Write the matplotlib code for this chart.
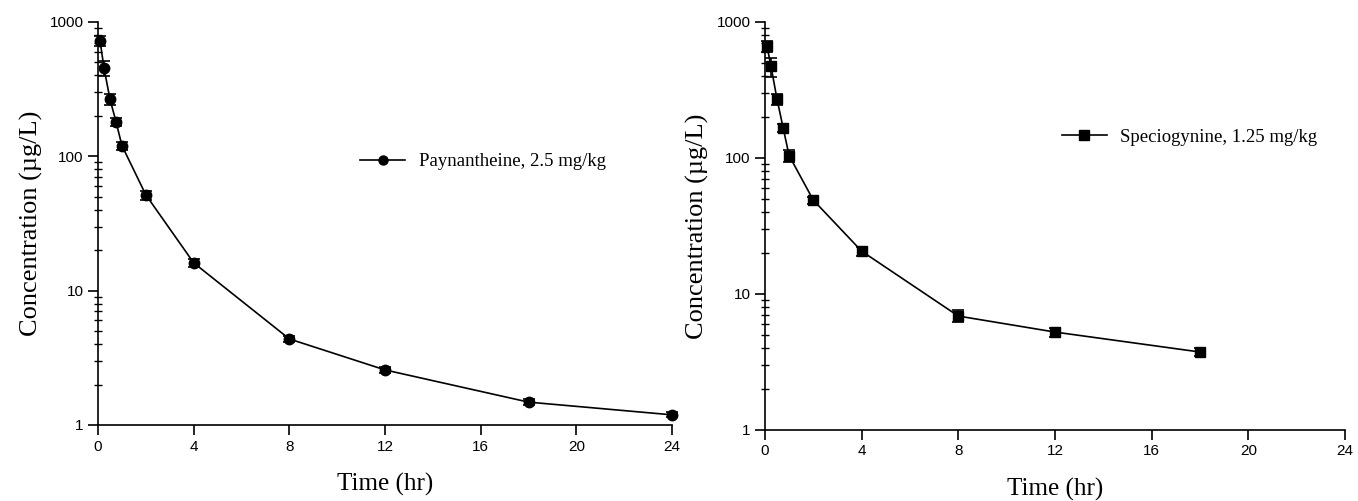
import matplotlib
matplotlib.use("Agg")
import matplotlib.pyplot as plt
from matplotlib.lines import Line2D
from matplotlib.ticker import FixedLocator, NullFormatter, FixedFormatter, LogLocator

# Data
time_p = [0.083, 0.25, 0.5, 0.75, 1, 2, 4, 8, 12, 18, 24]
conc_p = [727, 453, 266, 181, 120, 51.6, 16.1, 4.37, 2.57, 1.48, 1.19]
err_p = [60, 60, 27, 12, 8, 4, 1.0, 0.2, 0.15, 0.08, 0.05]
label_p = "Paynantheine, 2.5 mg/kg"

time_s = [0.083, 0.25, 0.5, 0.75, 1, 2, 4, 8, 12, 18]
conc_s = [666, 472, 270, 167, 104, 48.9, 20.6, 6.86, 5.23, 3.73]
err_s = [60, 75, 26, 12, 10, 3, 1.5, 0.7, 0.4, 0.25]
label_s = "Speciogynine, 1.25 mg/kg"

xticks = [0, 4, 8, 12, 16, 20, 24]
yticks = [1, 10, 100, 1000]
ytick_labels = ["1", "10", "100", "1000"]

serif = ["Liberation Serif", "DejaVu Serif"]
sans = ["Liberation Sans", "DejaVu Sans"]

fig = plt.figure(figsize=(13.58, 5.01), dpi=100)
ax1 = fig.add_axes([0.0722, 0.1517, 0.4227, 0.8044])
ax2 = fig.add_axes([0.5633, 0.1423, 0.4271, 0.8138])

def style(ax):
    ax.set_yscale("log")
    ax.set_xlim(0, 24)
    ax.set_ylim(1, 1000)
    for s in ["top", "right"]:
        ax.spines[s].set_visible(False)
    for s in ["left", "bottom"]:
        ax.spines[s].set_linewidth(1.2)
    ax.xaxis.set_major_locator(FixedLocator(xticks))
    ax.yaxis.set_major_locator(FixedLocator(yticks))
    ax.yaxis.set_major_formatter(FixedFormatter(ytick_labels))
    ax.yaxis.set_minor_locator(LogLocator(base=10, subs=range(2, 10)))
    ax.yaxis.set_minor_formatter(NullFormatter())
    ax.tick_params(axis="both", which="major", direction="out", length=7.5, width=1.2,
                   labelsize=11, pad=3)
    ax.tick_params(axis="y", which="minor", direction="inout", length=6, width=1.0)
    for lab in ax.get_xticklabels() + ax.get_yticklabels():
        lab.set_fontfamily(sans)
    ax.set_xlabel("Time (hr)", fontfamily=serif, fontsize=18, labelpad=14)
    ax.set_ylabel("Concentration (\u00b5g/L)", fontfamily=serif, fontsize=19, labelpad=5)

style(ax1)
style(ax2)

ax1.errorbar(time_p, conc_p, yerr=err_p, color="black", marker="o", markersize=7.5,
             linewidth=1.2, elinewidth=1.2, capsize=4, capthick=1.2,
             clip_on=False, zorder=3)
ax2.errorbar(time_s, conc_s, yerr=err_s, color="black", marker="s", markersize=7.5,
             linewidth=1.2, elinewidth=1.2, capsize=4, capthick=1.2,
             clip_on=False, zorder=3)

for ax, anchor, mk, lab in [(ax1, (0.457, 0.653), "o", label_p),
                            (ax2, (0.512, 0.718), "s", label_s)]:
    h = Line2D([], [], color="black", marker=mk, markersize=6.5, linewidth=1.2)
    ax.legend([h], [lab], loc="center left", bbox_to_anchor=anchor, frameon=False,
              borderpad=0, borderaxespad=0, handlelength=2.4, handletextpad=0.7,
              prop={"family": serif, "size": 13.5})

fig.savefig("out.png", dpi=100)
